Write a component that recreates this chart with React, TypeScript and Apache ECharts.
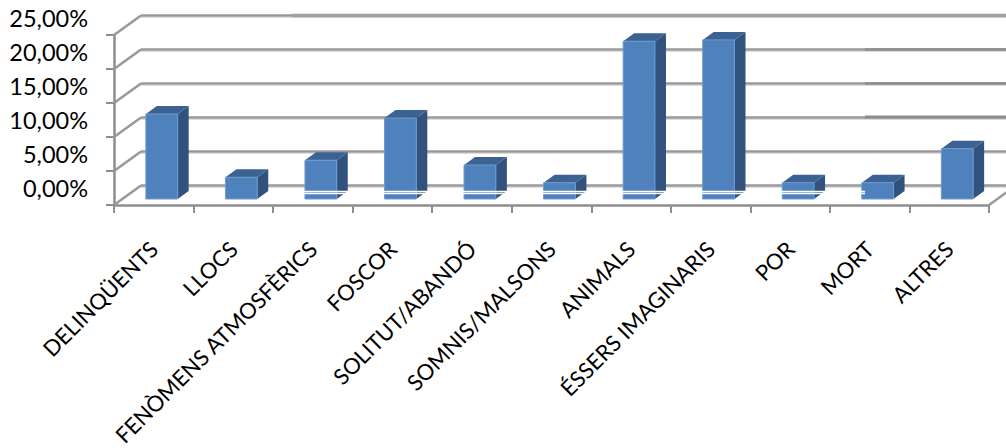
import React, { useEffect, useRef } from "react";
import * as echarts from "echarts";

const categories = ["DELINQÜENTS", "LLOCS", "FENÒMENS ATMOSFÈRICS", "FOSCOR", "SOLITUT/ABANDÓ", "SOMNIS/MALSONS", "ANIMALS", "ÉSSERS IMAGINARIS", "POR", "MORT", "ALTRES"];
const percentages = [12.5, 3.2, 5.7, 11.9, 5.0, 2.4, 23.2, 23.4, 2.4, 2.4, 7.4];
const wallTicks = [0, 5, 10, 15, 20, 25];

const GRID = "#999999";
const AXIS = "#8e8e8e";
const WALL_DX = 27, WALL_DY = -19.5;
const BAR_DX = 8, BAR_DY = -6, DEPTH_DX = 11, DEPTH_DY = -8, BAR_W = 0.4;

export default function App() {
  const ref = useRef<HTMLDivElement>(null);
  useEffect(() => {
    document.body.style.margin = "0";
    const chart = echarts.init(ref.current!, null, { renderer: "svg" });
    chart.setOption({
      animation: false,
      backgroundColor: "#fff",
      textStyle: { fontFamily: "Lato" },
      grid: { left: 114, right: 17, top: 35, bottom: 243, containLabel: false, outerBoundsMode: "none" },
      xAxis: {
        type: "category",
        data: categories,
        boundaryGap: true,
        axisLine: { lineStyle: { color: AXIS, width: 2.5 } },
        axisTick: { show: true, length: 8, interval: 0, lineStyle: { color: AXIS, width: 2 } },
        axisLabel: { interval: 0, rotate: 45, margin: 40, fontSize: 22, color: "#000", fontFamily: "Lato" },
      },
      yAxis: {
        type: "value",
        min: 0,
        max: 25,
        interval: 5,
        splitLine: { show: false },
        axisLine: { show: true, lineStyle: { color: AXIS, width: 2.5 } },
        axisTick: { show: true, length: 8, lineStyle: { color: AXIS, width: 2 } },
        axisLabel: {
          margin: 26,
          fontSize: 23.5,
          color: "#000",
          fontFamily: "Lato",
          verticalAlign: "bottom",
          padding: [0, 0, 5, 0],
          formatter: (v: number) => v.toFixed(2).replace(".", ",") + "%",
        },
      },
      series: [
        {
          type: "custom",
          coordinateSystem: "cartesian2d",
          z: 1,
          silent: true,
          clip: false,
          data: wallTicks.map((v) => [0, v]),
          renderItem: (_p: any, api: any) => {
            const band = api.size([1, 0])[0];
            const c = api.coord([0, api.value(1)]);
            const x0 = c[0] - band / 2;
            const y0 = c[1];
            const bx = x0 + WALL_DX;
            const by = y0 + WALL_DY;
            const W = api.getWidth();
            const line = (x1: number, y1: number, x2: number, y2: number, stroke: string, lw: number) => ({
              type: "line",
              shape: { x1, y1, x2, y2 },
              style: { stroke, lineWidth: lw },
            });
            return {
              type: "group",
              children: [
                line(bx, by + 2, W, by + 2, "#dcdcdc", 1),
                line(x0, y0, bx, by, GRID, 2.5),
                line(bx, by, W, by, GRID, 2.5),
              ],
            };
          },
        },
        {
          type: "custom",
          coordinateSystem: "cartesian2d",
          z: 1,
          silent: true,
          clip: false,
          data: [[categories.length - 1, 0]],
          renderItem: (_p: any, api: any) => {
            const band = api.size([1, 0])[0];
            const c = api.coord([api.value(0), 0]);
            const x0 = c[0] + band / 2;
            return {
              type: "line",
              shape: { x1: x0, y1: c[1], x2: x0 + WALL_DX, y2: c[1] + WALL_DY },
              style: { stroke: GRID, lineWidth: 2.5 },
            };
          },
        },
        {
          type: "custom",
          coordinateSystem: "cartesian2d",
          z: 3,
          clip: false,
          data: percentages.map((v, i) => [i, v]),
          renderItem: (_p: any, api: any) => {
            const band = api.size([1, 0])[0];
            const w = band * BAR_W;
            const top = api.coord([api.value(0), api.value(1)]);
            const base = api.coord([api.value(0), 0]);
            const l = top[0] + BAR_DX - w / 2;
            const r = l + w;
            const t = top[1] + BAR_DY;
            const b = base[1] + BAR_DY;
            return {
              type: "group",
              children: [
                {
                  type: "polygon",
                  shape: { points: [[r, b], [r + DEPTH_DX, b + DEPTH_DY], [r + DEPTH_DX, t + DEPTH_DY], [r, t]] },
                  style: { fill: "#30527d" },
                },
                {
                  type: "polygon",
                  shape: { points: [[l, t], [l + DEPTH_DX, t + DEPTH_DY], [r + DEPTH_DX, t + DEPTH_DY], [r, t]] },
                  style: { fill: "#3b6292" },
                },
                {
                  type: "rect",
                  shape: { x: l, y: t, width: w, height: b - t },
                  style: { fill: "#4f81bd", stroke: "#6f9bd0", lineWidth: 1 },
                },
              ],
            };
          },
        },
      ],
      graphic: [
        { type: "line", z: 10, shape: { x1: 292, y1: 15.5, x2: 1006, y2: 15.5 }, style: { stroke: "#a0a0a0", lineWidth: 3.5 } },
        { type: "line", z: 10, shape: { x1: 865, y1: 49.5, x2: 1006, y2: 49.5 }, style: { stroke: "#8c8c8c", lineWidth: 2.5 } },
        { type: "line", z: 10, shape: { x1: 865, y1: 83.5, x2: 1006, y2: 83.5 }, style: { stroke: "#8c8c8c", lineWidth: 2.5 } },
        { type: "line", z: 10, shape: { x1: 865, y1: 117, x2: 1006, y2: 117 }, style: { stroke: "#8c8c8c", lineWidth: 3 } },
        { type: "line", z: 10, shape: { x1: 292, y1: 191.5, x2: 865, y2: 191.5 }, style: { stroke: "#fff", lineWidth: 1.3 } },
        { type: "line", z: 10, shape: { x1: 292, y1: 193.5, x2: 865, y2: 193.5 }, style: { stroke: "#fff", lineWidth: 1.3 } },
      ],
    });
    return () => chart.dispose();
  }, []);
  return <div ref={ref} style={{ position: "absolute", left: 0, top: 0, width: 1006, height: 448 }} />;
}
